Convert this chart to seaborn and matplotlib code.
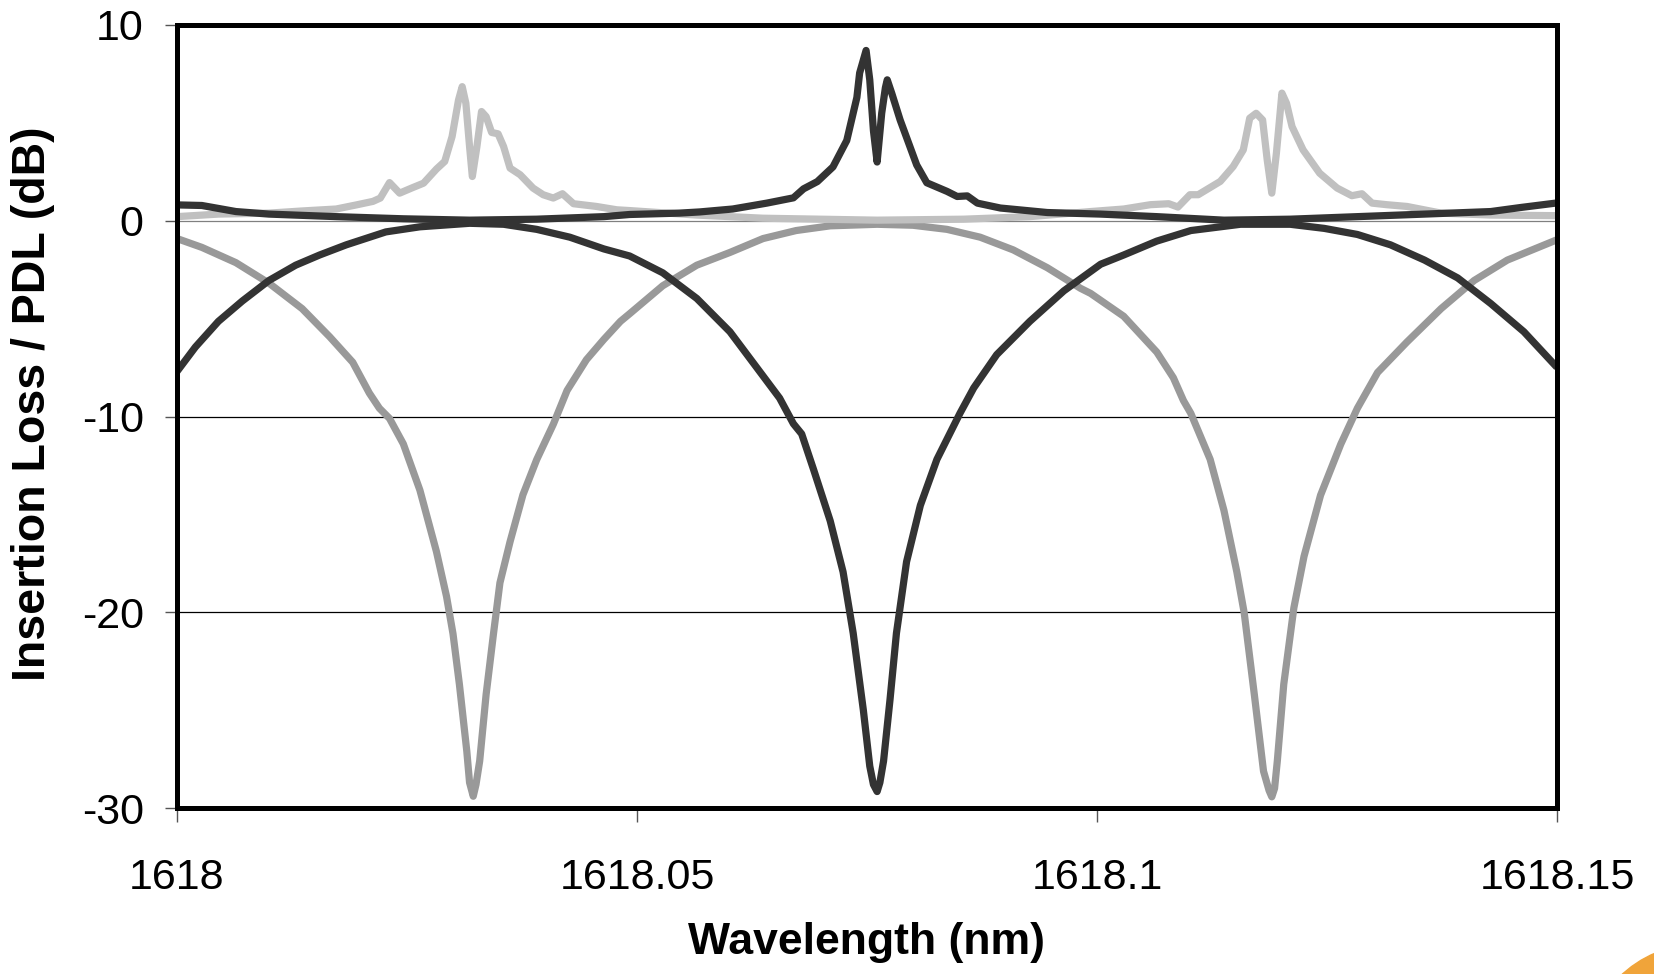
import matplotlib
matplotlib.use("Agg")
import matplotlib.pyplot as plt
import seaborn as sns
import numpy as np
from matplotlib.patches import Circle

# Insertion loss, mid grey trace (dips at 1618.032 and 1618.119)
wl_il_grey = [1618.0000, 1618.0027, 1618.0064, 1618.0100, 1618.0136, 1618.0166, 1618.0191,
              1618.0209, 1618.0220, 1618.0231, 1618.0246, 1618.0264, 1618.0282, 1618.0293,
              1618.0300, 1618.0307, 1618.0315, 1618.0318, 1618.0322, 1618.0325, 1618.0329,
              1618.0336, 1618.0344, 1618.0351, 1618.0362, 1618.0376, 1618.0391, 1618.0409,
              1618.0424, 1618.0445, 1618.0464, 1618.0482, 1618.0492, 1618.0528, 1618.0565,
              1618.0601, 1618.0637, 1618.0673, 1618.0710, 1618.0761, 1618.0800, 1618.0837,
              1618.0873, 1618.0909, 1618.0946, 1618.0982, 1618.0993, 1618.1029, 1618.1065,
              1618.1083, 1618.1094, 1618.1102, 1618.1123, 1618.1138, 1618.1152, 1618.1160,
              1618.1171, 1618.1181, 1618.1187, 1618.1190, 1618.1193, 1618.1196, 1618.1203,
              1618.1214, 1618.1225, 1618.1243, 1618.1265, 1618.1283, 1618.1305, 1618.1337,
              1618.1374, 1618.1410, 1618.1446, 1618.1500]
il_grey = [-0.91, -1.36, -2.14, -3.19, -4.49, -5.93, -7.23,
           -8.80, -9.58, -10.10, -11.40, -13.76, -16.90, -19.20,
           -21.10, -23.70, -27.10, -28.70, -29.40, -28.80, -27.60,
           -24.20, -21.10, -18.50, -16.40, -14.00, -12.20, -10.40,
           -8.67, -7.10, -6.06, -5.14, -4.75, -3.32, -2.27,
           -1.62, -0.91, -0.50, -0.26, -0.18, -0.23, -0.44,
           -0.84, -1.49, -2.40, -3.45, -3.71, -4.88, -6.71,
           -8.02, -9.19, -9.84, -12.19, -14.80, -17.94, -20.03,
           -24.20, -28.12, -29.10, -29.43, -29.00, -27.60, -23.68,
           -19.77, -17.15, -14.02, -11.41, -9.58, -7.75, -6.19,
           -4.49, -3.05, -2.01, -0.97]

# Insertion loss, dark trace (dip at 1618.076)
wl_il_dark = [1618.0000, 1618.0020, 1618.0045, 1618.0071, 1618.0100, 1618.0129, 1618.0155,
              1618.0184, 1618.0227, 1618.0264, 1618.0318, 1618.0355, 1618.0391, 1618.0427,
              1618.0464, 1618.0492, 1618.0528, 1618.0565, 1618.0601, 1618.0630, 1618.0655,
              1618.0670, 1618.0679, 1618.0692, 1618.0710, 1618.0724, 1618.0735, 1618.0746,
              1618.0753, 1618.0757, 1618.0761, 1618.0764, 1618.0768, 1618.0775, 1618.0782,
              1618.0793, 1618.0808, 1618.0826, 1618.0851, 1618.0866, 1618.0891, 1618.0927,
              1618.0964, 1618.1004, 1618.1029, 1618.1065, 1618.1102, 1618.1156, 1618.1210,
              1618.1247, 1618.1283, 1618.1319, 1618.1356, 1618.1392, 1618.1428, 1618.1464,
              1618.1500]
il_dark = [-7.70, -6.45, -5.14, -4.10, -3.05, -2.27, -1.75,
           -1.23, -0.57, -0.31, -0.13, -0.18, -0.44, -0.84,
           -1.44, -1.80, -2.66, -3.97, -5.67, -7.49, -9.06,
           -10.37, -10.89, -12.72, -15.33, -17.94, -21.07, -24.99,
           -27.86, -28.80, -29.16, -28.70, -27.60, -24.47, -21.07,
           -17.42, -14.54, -12.19, -9.84, -8.54, -6.84, -5.14,
           -3.58, -2.22, -1.75, -1.04, -0.50, -0.18, -0.18,
           -0.39, -0.70, -1.23, -2.01, -2.92, -4.23, -5.67,
           -7.49]

# PDL, light grey trace
wl_pdl_light = [1618.0000, 1618.0045, 1618.0100, 1618.0136, 1618.0173, 1618.0195, 1618.0213,
                1618.0221, 1618.0231, 1618.0242, 1618.0255, 1618.0268, 1618.0282, 1618.0291,
                1618.0299, 1618.0306, 1618.0310, 1618.0314, 1618.0318, 1618.0321, 1618.0326,
                1618.0331, 1618.0336, 1618.0342, 1618.0349, 1618.0355, 1618.0362, 1618.0373,
                1618.0387, 1618.0398, 1618.0409, 1618.0419, 1618.0431, 1618.0456, 1618.0478,
                1618.0492, 1618.0565, 1618.0637, 1618.0761, 1618.0855, 1618.0927, 1618.0993,
                1618.1029, 1618.1058, 1618.1078, 1618.1088, 1618.1101, 1618.1110, 1618.1134,
                1618.1148, 1618.1159, 1618.1166, 1618.1173, 1618.1180, 1618.1185, 1618.1190,
                1618.1195, 1618.1201, 1618.1206, 1618.1212, 1618.1224, 1618.1242, 1618.1261,
                1618.1277, 1618.1288, 1618.1299, 1618.1315, 1618.1337, 1618.1374, 1618.1428,
                1618.1500]
pdl_light = [0.21, 0.34, 0.39, 0.50, 0.60, 0.81, 0.99,
             1.16, 1.95, 1.41, 1.67, 1.92, 2.64, 3.03,
             4.30, 6.17, 6.85, 6.00, 3.79, 2.26, 3.79,
             5.58, 5.32, 4.51, 4.44, 3.79, 2.69, 2.35,
             1.67, 1.33, 1.16, 1.38, 0.87, 0.73, 0.56,
             0.52, 0.29, 0.13, 0.03, 0.08, 0.21, 0.47,
             0.60, 0.82, 0.87, 0.70, 1.33, 1.33, 2.01,
             2.77, 3.62, 5.24, 5.49, 5.15, 3.11, 1.41,
             3.45, 6.52, 6.00, 4.81, 3.62, 2.43, 1.67,
             1.28, 1.38, 0.90, 0.82, 0.73, 0.39, 0.29,
             0.26]

# PDL, dark trace
wl_pdl_dark = [1618.0000, 1618.0027, 1618.0064, 1618.0100, 1618.0173, 1618.0246, 1618.0318,
               1618.0391, 1618.0464, 1618.0492, 1618.0546, 1618.0568, 1618.0604, 1618.0641,
               1618.0670, 1618.0681, 1618.0696, 1618.0713, 1618.0728, 1618.0739, 1618.0742,
               1618.0749, 1618.0753, 1618.0757, 1618.0761, 1618.0766, 1618.0770, 1618.0772,
               1618.0777, 1618.0786, 1618.0804, 1618.0815, 1618.0837, 1618.0848, 1618.0859,
               1618.0870, 1618.0895, 1618.0946, 1618.1004, 1618.1065, 1618.1138, 1618.1210,
               1618.1283, 1618.1356, 1618.1428, 1618.1461, 1618.1500]
pdl_dark = [0.81, 0.78, 0.47, 0.34, 0.21, 0.10, 0.03,
            0.08, 0.21, 0.32, 0.39, 0.45, 0.60, 0.90,
            1.17, 1.63, 2.00, 2.75, 4.10, 6.30, 7.55,
            8.70, 7.20, 4.60, 3.00, 5.50, 6.80, 7.20,
            6.50, 5.15, 2.85, 1.94, 1.50, 1.24, 1.27,
            0.90, 0.65, 0.42, 0.34, 0.21, 0.03, 0.08,
            0.21, 0.34, 0.47, 0.68, 0.91]

x_ticks = [1618, 1618.05, 1618.1, 1618.15]
x_tick_labels = ["1618", "1618.05", "1618.1", "1618.15"]
y_ticks = [-30, -20, -10, 0, 10]

sns.set_style("white")
plt.rcParams['font.family'] = ['Liberation Sans', 'DejaVu Sans']
plt.rcParams['axes.unicode_minus'] = False

fig = plt.figure(figsize=(16.54, 9.74), dpi=100)
ax = fig.add_axes([177 / 1654, 1 - 808 / 974, 1380 / 1654, 783 / 974])

# little orange corner of the slide background
fig.patches.append(Circle((17.0, -0.85), 1.15, transform=fig.dpi_scale_trans,
                          color='#f0a43a', zorder=0))

sns.lineplot(x=wl_il_grey, y=il_grey, color='#999999', estimator=None, ax=ax)
sns.lineplot(x=wl_pdl_light, y=pdl_light, color='#c0c0c0', estimator=None, ax=ax)
sns.lineplot(x=wl_il_dark, y=il_dark, color='#333333', estimator=None, ax=ax)
sns.lineplot(x=wl_pdl_dark, y=pdl_dark, color='#333333', estimator=None, ax=ax)

# thick, rounded traces like the original export
for line in ax.lines:
    line.set_linewidth(5.2)
    line.set_solid_joinstyle('round')
    line.set_solid_capstyle('butt')
assert len(ax.lines) == 4, [(l, l.get_linewidth()) for l in ax.lines]

ax.set_xlim(1618, 1618.15)
ax.set_ylim(-30, 10)
ax.set_xticks(x_ticks)
ax.set_xticklabels(x_tick_labels)
ax.set_yticks(y_ticks)

ax.yaxis.grid(True, color='black', linewidth=0.9)
ax.xaxis.grid(False)
ax.yaxis.get_gridlines()[3].set_color('#808080')

for s in ax.spines.values():
    s.set_linewidth(3.6)
    s.set_color('black')

ax.tick_params(axis='y', direction='out', length=8.5, width=1, color='#555555',
               labelsize=31, labelcolor='black', pad=15.5, left=True)
ax.tick_params(axis='x', direction='out', length=10, width=1, color='#555555',
               labelsize=31, labelcolor='black', pad=26, bottom=True)

ax.set_xlabel("Wavelength (nm)", fontsize=32, fontweight='bold', color='black')
ax.set_ylabel("Insertion Loss / PDL (dB)", fontsize=33.5, fontweight='bold', color='black')
ax.xaxis.set_label_coords(0.5, -0.1456)
ax.yaxis.set_label_coords(-0.0884, 0.517)

fig.savefig("out.png", dpi=100)
